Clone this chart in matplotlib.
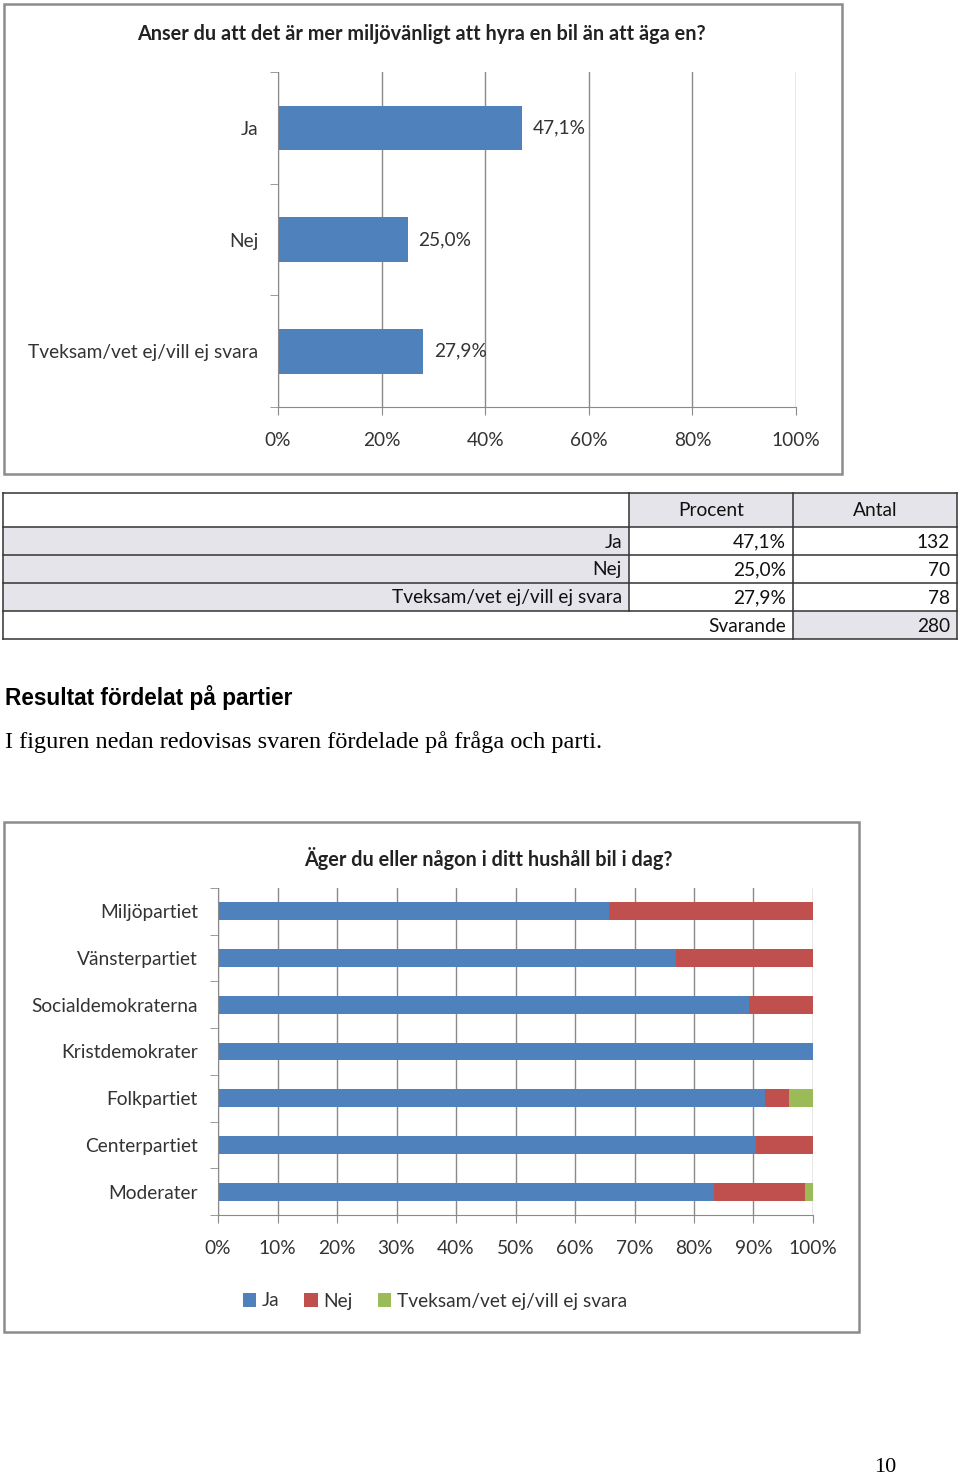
import numpy as np
import matplotlib.pyplot as plt
from matplotlib.patches import Rectangle

W, H = 960, 1480
SANS = ['Lato', 'DejaVu Sans']

# --- data ---
q1_title = 'Anser du att det är mer miljövänligt att hyra en bil än att äga en?'
q1_labels = ['Ja', 'Nej', 'Tveksam/vet ej/vill ej svara']
q1_pct = [47.1, 25.0, 27.9]
q1_antal = [132, 70, 78]
q1_svarande = 280

q2_title = 'Äger du eller någon i ditt hushåll bil i dag?'
partier = ['Miljöpartiet', 'Vänsterpartiet', 'Socialdemokraterna', 'Kristdemokrater',
           'Folkpartiet', 'Centerpartiet', 'Moderater']
ja = [65.7, 76.9, 89.3, 100.0, 92.0, 90.5, 83.3]
nej = [34.3, 23.1, 10.7, 0.0, 4.0, 9.5, 15.3]
tveksam = [0.0, 0.0, 0.0, 0.0, 4.0, 0.0, 1.4]
serie_namn = ['Ja', 'Nej', 'Tveksam/vet ej/vill ej svara']
farger = ['#4F81BD', '#C0504D', '#9BBB59']

GRID = '#8a8a8a'
TABGRA = '#e4e4ea'


def rect(x0, y0, x1, y1):
    # pixelbox -> figurkoordinater
    return [x0 / W, 1 - y1 / H, (x1 - x0) / W, (y1 - y0) / H]


def fmt(v):
    return ('%.1f%%' % v).replace('.', ',')


def excel_axis(ax, n):
    for s in ['top', 'right']:
        ax.spines[s].set_visible(False)
    for s in ['left', 'bottom']:
        ax.spines[s].set_color(GRID)
    ax.set_ylim(n - 0.5, -0.5)
    ax.set_xlim(0, 100)
    ax.xaxis.grid(True, color=GRID, linewidth=1)
    ax.set_axisbelow(True)
    ax.set_yticks(np.arange(-0.5, n, 1.0), minor=True)
    ax.tick_params(axis='y', which='major', length=0, pad=14)
    ax.tick_params(axis='y', which='minor', length=6, color=GRID, direction='out')
    ax.tick_params(axis='x', length=6, color=GRID, pad=12)


fig = plt.figure(figsize=(W / 100, H / 100), dpi=100)
bg = fig.add_axes([0, 0, 1, 1])
bg.set_xlim(0, W)
bg.set_ylim(H, 0)
bg.axis('off')

# ramar runt diagrammen
bg.add_patch(Rectangle((4, 4), 838, 470, fill=False, edgecolor='#8c8c8c', linewidth=1.8))
bg.add_patch(Rectangle((4, 822), 855, 510, fill=False, edgecolor='#8c8c8c', linewidth=1.8))

# --- diagram 1 ---
ax1 = fig.add_axes(rect(278, 72, 796, 407))
y1 = np.arange(len(q1_labels))
ax1.barh(y1, q1_pct, height=0.4, color=farger[0])
excel_axis(ax1, len(q1_labels))
ax1.set_xticks(np.arange(0, 101, 20))
ax1.set_xticklabels(['%d%%' % v for v in range(0, 101, 20)], fontsize=13.8, color='#333333', family=SANS)
ax1.set_yticks(y1)
ax1.set_yticklabels(q1_labels, fontsize=13.8, color='#333333', family=SANS)
for yy, v in zip(y1, q1_pct):
    ax1.annotate(fmt(v), (v, yy), xytext=(8, 0), textcoords='offset points',
                 va='center', ha='left', fontsize=13.8, color='#333333', family=SANS)
bg.text(421, 34, q1_title, ha='center', va='center', fontsize=14.3,
        fontweight='bold', color='#222222', family=SANS)

# --- tabell ---
ty = [493, 527, 555, 583, 611, 639]
tx = [3, 629, 793, 957]
rader = [['', 'Procent', 'Antal']]
for lab, p, a in zip(q1_labels, q1_pct, q1_antal):
    rader.append([lab, fmt(p), str(a)])
rader.append(['', 'Svarande', str(q1_svarande)])
for r, rad in enumerate(rader):
    y0, y1_ = ty[r], ty[r + 1]
    for c in range(3):
        gra = (r == 0 and c > 0) or (1 <= r <= 3 and c == 0) or (r == 4 and c == 2)
        if gra:
            bg.add_patch(Rectangle((tx[c], y0), tx[c + 1] - tx[c], y1_ - y0,
                                   facecolor=TABGRA, edgecolor='none'))
    for c, txt in enumerate(rad):
        if not txt:
            continue
        if r == 0:
            bg.text((tx[c] + tx[c + 1]) / 2, (y0 + y1_) / 2, txt, ha='center', va='center',
                    fontsize=13.8, color='#111111', family=SANS)
        else:
            bg.text(tx[c + 1] - 7, (y0 + y1_) / 2 + 1, txt, ha='right', va='center',
                    fontsize=13.8, color='#111111', family=SANS)
# linjer i tabellen
for yy in ty:
    bg.plot([tx[0], tx[-1]], [yy, yy], color='#333333', linewidth=1.1)
bg.plot([tx[0], tx[0]], [ty[0], ty[-1]], color='#333333', linewidth=1.1)
bg.plot([tx[-1], tx[-1]], [ty[0], ty[-1]], color='#333333', linewidth=1.1)
bg.plot([tx[1], tx[1]], [ty[0], ty[4]], color='#333333', linewidth=1.1)
bg.plot([tx[2], tx[2]], [ty[0], ty[-1]], color='#333333', linewidth=1.1)

# --- rubrik och brödtext ---
bg.text(5, 697, 'Resultat fördelat på partier', ha='left', va='center', fontsize=16.3,
        fontweight='bold', family=['Liberation Sans', 'DejaVu Sans'])
bg.text(5, 742, 'I figuren nedan redovisas svaren fördelade på fråga och parti.', ha='left',
        va='center', fontsize=17.5, family=['Liberation Serif', 'DejaVu Serif'])
bg.text(885, 1468, '10', ha='center', va='center', fontsize=16,
        family=['Liberation Serif', 'DejaVu Serif'])

# --- diagram 2 ---
ax2 = fig.add_axes(rect(218, 888, 813, 1215))
y2 = np.arange(len(partier))
left = np.zeros(len(partier))
for vals, namn, col in zip([ja, nej, tveksam], serie_namn, farger):
    ax2.barh(y2, vals, left=left, height=0.38, color=col, label=namn)
    left = left + np.array(vals)
excel_axis(ax2, len(partier))
ax2.set_xticks(np.arange(0, 101, 10))
ax2.set_xticklabels(['%d%%' % v for v in range(0, 101, 10)], fontsize=13.8, color='#333333', family=SANS)
ax2.set_yticks(y2)
ax2.set_yticklabels(partier, fontsize=13.8, color='#333333', family=SANS)
ax2.tick_params(axis='y', which='major', pad=14.5)
bg.text(488, 858, q2_title, ha='center', va='center', fontsize=14.3,
        fontweight='bold', color='#222222', family=SANS)
leg = ax2.legend(loc='center', bbox_to_anchor=(217 / 595, -86 / 327), ncol=3, frameon=False,
                 handlelength=0.7, handleheight=0.7, handletextpad=0.3, columnspacing=1.3,
                 prop={'family': SANS, 'size': 13.8})
for t in leg.get_texts():
    t.set_color('#333333')

fig.savefig('out.png', dpi=100)
